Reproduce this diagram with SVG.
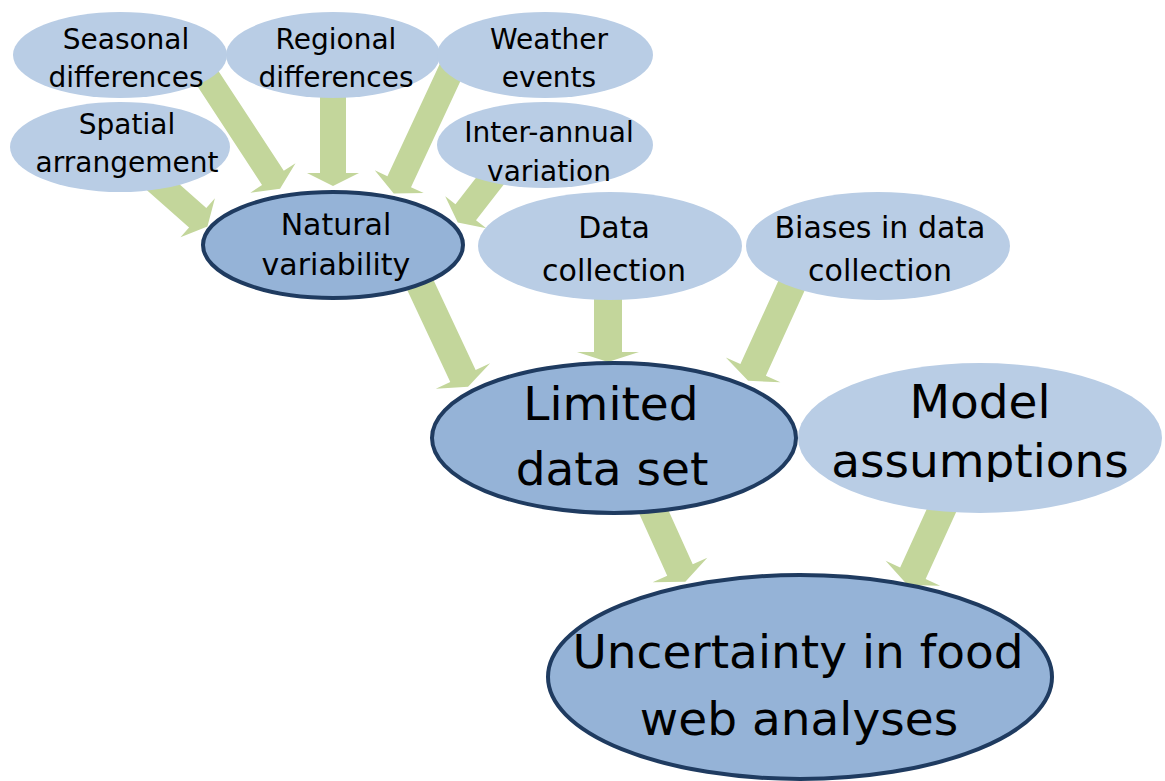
<svg xmlns="http://www.w3.org/2000/svg" width="1165" height="781" viewBox="0 0 1165 781">
  <defs>
    <style>
      .arrow { fill: #c3d69b; }
      .cause { fill: #b9cde5; }
      .core { fill: #95b3d7; stroke: #1f3b60; stroke-width: 4; }
      text { font-family: "DejaVu Sans", Verdana, sans-serif; fill: #000; text-anchor: middle; }
      .s { font-size: 28px; }
      .m { font-size: 30px; }
      .l { font-size: 47px; }
    </style>
    <clipPath id="modelClip">
      <rect x="790" y="360" width="375" height="122"/>
    </clipPath>
  </defs>
  <rect width="1165" height="781" fill="#fff"/>

  <!-- block arrows: local x axis runs from source to target -->
  <g id="connectors">
    <path class="arrow" d="M0,-13H135V-27L148,0L135,27V13H0Z" transform="translate(199 65) rotate(56.8)"/>
    <path class="arrow" d="M0,-13H77V-26L90,0L77,26V13H0Z" transform="translate(333 96) rotate(90)"/>
    <path class="arrow" d="M0,-13H132V-27L145,0L132,27V13H0Z" transform="translate(455 62) rotate(115)"/>
    <path class="arrow" d="M0,-13H57V-26L70,0L57,26V13H0Z" transform="translate(155 180) rotate(41.5)"/>
    <path class="arrow" d="M0,-13H51V-26L64,0L51,26V13H0Z" transform="translate(497 172) rotate(127.8)"/>
    <path class="arrow" d="M0,-14H106V-30L118,0L106,30V14H0Z" transform="translate(418 280) rotate(64.9)"/>
    <path class="arrow" d="M0,-14H54V-31L64,0L54,31V14H0Z" transform="translate(608 298) rotate(90)"/>
    <path class="arrow" d="M0,-14H101V-30L113,0L101,30V14H0Z" transform="translate(795 278) rotate(114.5)"/>
    <path class="arrow" d="M0,-14H68V-30L81,0L68,30V14H0Z" transform="translate(652 508) rotate(65.7)"/>
    <path class="arrow" d="M0,-14H75V-30L88,0L75,30V14H0Z" transform="translate(944 505) rotate(114.5)"/>
  </g>

  <g id="seasonal">
    <ellipse class="cause" cx="120" cy="55" rx="107" ry="43"/>
    <text class="s" x="126" y="49">Seasonal</text>
    <text class="s" x="126" y="87">differences</text>
  </g>
  <g id="regional">
    <ellipse class="cause" cx="333" cy="55" rx="107" ry="43"/>
    <text class="s" x="336" y="49">Regional</text>
    <text class="s" x="336" y="87">differences</text>
  </g>
  <g id="weather">
    <ellipse class="cause" cx="545" cy="55" rx="108" ry="43"/>
    <text class="s" x="549" y="49">Weather</text>
    <text class="s" x="549" y="87">events</text>
  </g>
  <g id="spatial">
    <ellipse class="cause" cx="120" cy="147" rx="110" ry="45"/>
    <text class="s" x="127" y="134">Spatial</text>
    <text class="s" x="127" y="172">arrangement</text>
  </g>
  <g id="interannual">
    <ellipse class="cause" cx="545" cy="145" rx="108" ry="43"/>
    <text class="s" x="549" y="142">Inter-annual</text>
    <text class="s" x="549" y="181">variation</text>
  </g>

  <g id="natural">
    <ellipse class="core" cx="333" cy="245" rx="130" ry="53"/>
    <text class="m" x="336" y="235">Natural</text>
    <text class="m" x="336" y="275">variability</text>
  </g>
  <g id="datacollection">
    <ellipse class="cause" cx="610" cy="246" rx="132" ry="54"/>
    <text class="m" x="614" y="238">Data</text>
    <text class="m" x="614" y="281">collection</text>
  </g>
  <g id="biases">
    <ellipse class="cause" cx="878" cy="246" rx="132" ry="54"/>
    <text class="m" x="880" y="238">Biases in data</text>
    <text class="m" x="880" y="281">collection</text>
  </g>

  <g id="limited">
    <ellipse class="core" cx="614" cy="438" rx="182" ry="75"/>
    <text class="l" x="611" y="420">Limited</text>
    <text class="l" x="612" y="485">data set</text>
  </g>
  <g id="model">
    <ellipse class="cause" cx="980" cy="438" rx="182" ry="75"/>
    <g clip-path="url(#modelClip)">
      <text class="l" x="980" y="418">Model</text>
      <text class="l" x="980" y="477">assumptions</text>
    </g>
  </g>

  <g id="uncertainty">
    <ellipse class="core" cx="800" cy="677" rx="252" ry="102"/>
    <text class="l" x="798" y="668">Uncertainty in food</text>
    <text class="l" x="799" y="735">web analyses</text>
  </g>
</svg>
